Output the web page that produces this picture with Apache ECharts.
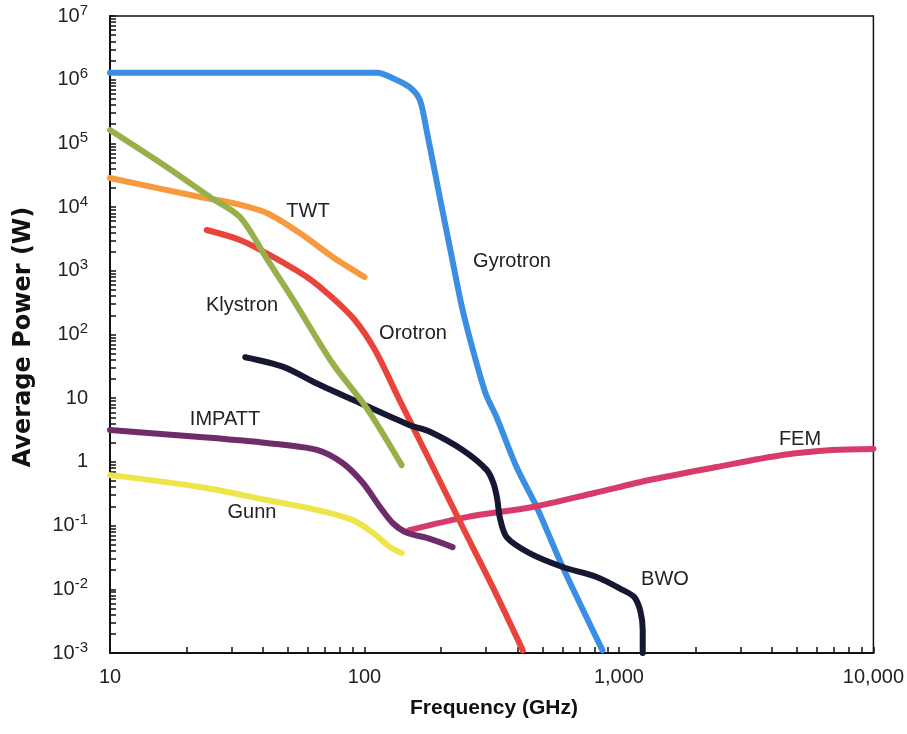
<!DOCTYPE html>
<html>
<head>
<meta charset="utf-8">
<script src="https://cdn.jsdelivr.net/npm/echarts@6/dist/echarts.min.js"></script>
<style>
  html, body { margin: 0; padding: 0; background: #fff; }
  #chart { width: 907px; height: 734px; }
</style>
</head>
<body>
<div id="chart"></div>
<script>
// values: [frequency GHz, average power W]
var gyrotron = [[10,1.28e6],[60,1.28e6],[112,1.28e6],[129,1.06e6],[150,7.7e5],[165,4.8e5],[176,1.5e5],[198,13900],[220,1700],[243,243],[270,48],[299,12],[330,5.1],[396,0.83],[475,0.196],[601,0.0224],[862,0.0011]];
var twt = [[10,28600],[22.6,14400],[30.4,11600],[41.3,8080],[55.7,3920],[75,1650],[100,800]];
var klystron = [[10,1.62e5],[16.7,42600],[24.7,14400],[32.4,7000],[41.3,1550],[52.3,360],[75,35],[102,7],[140,0.89]];
var orotron = [[24,4370],[32.4,3050],[42.5,1770],[59.4,800],[75,374],[91.6,169],[110,57],[138,9],[180,1.07],[243,0.095],[319,0.0109],[419,0.0011]];
var bwo = [[34,44],[48,31],[65,17],[96,8.4],[150,3.8],[180,3.0],[243,1.54],[302,0.75],[322,0.45],[333,0.25],[340,0.136],[362,0.066],[445,0.037],[601,0.0224],[817,0.0156],[1033,0.0098],[1150,0.0075],[1215,0.0045],[1240,0.0023],[1240,0.001]];
var impatt = [[10,3.17],[22.6,2.46],[41.3,1.98],[65,1.54],[82,0.96],[98.5,0.47],[115,0.196],[129,0.11],[147,0.077],[176,0.064],[222,0.046]];
var gunn = [[10,0.62],[22.6,0.404],[41.3,0.252],[65,0.176],[90,0.122],[108,0.077],[126,0.046],[140,0.037]];
var fem = [[150,0.085],[252,0.136],[458,0.196],[800,0.325],[1319,0.52],[2415,0.83],[4387,1.28],[6900,1.54],[10000,1.6]];

// tick labels
var xTicks = [10, 100, 1000, 10000];
var yTicks = [1e-3, 1e-2, 1e-1, 1, 10, 1e2, 1e3, 1e4, 1e5, 1e6, 1e7];

// minor ticks 2..9 in every decade
function minorTicks(decades) {
  var out = [];
  for (var i = 0; i < decades.length - 1; i++) {
    for (var k = 1; k < 10; k++) out.push(+(decades[i] * k).toPrecision(6));
  }
  out.push(decades[decades.length - 1]);
  return out;
}

var font = 'Liberation Sans, Arial, sans-serif';
var myChart = echarts.init(document.getElementById('chart'));

function line(name, data, color) {
  return {
    name: name,
    type: 'line',
    data: data,
    smooth: 0.3,
    showSymbol: false,
    clip: true,
    lineStyle: { color: color, width: 6, cap: 'round' },
    silent: true
  };
}

function label(text, x, y) {
  return {
    type: 'text', x: x, y: y,
    style: { text: text, font: '20px ' + font, fill: '#222', textAlign: 'center', textVerticalAlign: 'middle' }
  };
}

myChart.setOption({
  animation: false,
  backgroundColor: '#fff',
  grid: { left: 110, right: 33, top: 16, bottom: 81, show: true, borderColor: '#111', borderWidth: 1.5 },
  xAxis: {
    type: 'log', logBase: 10, min: 10, max: 10000,
    axisLine: { show: true, lineStyle: { color: '#111', width: 2 } },
    axisTick: { inside: true, length: 6, customValues: minorTicks(xTicks), lineStyle: { color: '#111', width: 1.5 } },
    axisLabel: {
      customValues: xTicks, margin: 14, color: '#222', fontFamily: font, fontSize: 20,
      formatter: function (v) { return Math.round(v).toLocaleString('en-US'); }
    },
    splitLine: { show: false }
  },
  yAxis: {
    type: 'log', logBase: 10, min: 1e-3, max: 1e7,
    axisLine: { show: true, lineStyle: { color: '#111', width: 2 } },
    axisTick: { inside: true, length: 6, customValues: minorTicks(yTicks), lineStyle: { color: '#111', width: 1.5 } },
    axisLabel: {
      customValues: yTicks, margin: 22, color: '#222', fontFamily: font, fontSize: 20,
      formatter: function (v) {
        var e = Math.round(Math.log10(v));
        if (e === 0) return '1';
        if (e === 1) return '10';
        return '10{sup|' + e + '}';
      },
      rich: { sup: { fontSize: 15, fontFamily: font, color: '#222', padding: [0, 0, 11, 0] } }
    },
    splitLine: { show: false }
  },
  graphic: [
    label('TWT', 308, 211),
    label('Gyrotron', 512, 261),
    label('Klystron', 242, 305),
    label('Orotron', 413, 333),
    label('IMPATT', 225, 419),
    label('Gunn', 252, 512),
    label('BWO', 665, 579),
    label('FEM', 800, 439),
    {
      type: 'text', x: 24, y: 337, rotation: Math.PI / 2,
      style: { text: 'Average Power (W)', font: 'bold 24px DejaVu Sans, sans-serif', fill: '#111', textAlign: 'center', textVerticalAlign: 'middle' }
    },
    {
      type: 'text', x: 494, y: 708,
      style: { text: 'Frequency (GHz)', font: 'bold 21px ' + font, fill: '#111', textAlign: 'center', textVerticalAlign: 'middle' }
    }
  ],
  series: [
    line('Gyrotron', gyrotron, '#3a8fe3'),
    line('FEM', fem, '#d63b6a'),
    line('Orotron', orotron, '#e9443b'),
    line('BWO', bwo, '#151733'),
    line('TWT', twt, '#f6993f'),
    line('Klystron', klystron, '#98b04a'),
    line('IMPATT', impatt, '#6e2c6b'),
    line('Gunn', gunn, '#ede64b')
  ]
});
</script>
</body>
</html>
